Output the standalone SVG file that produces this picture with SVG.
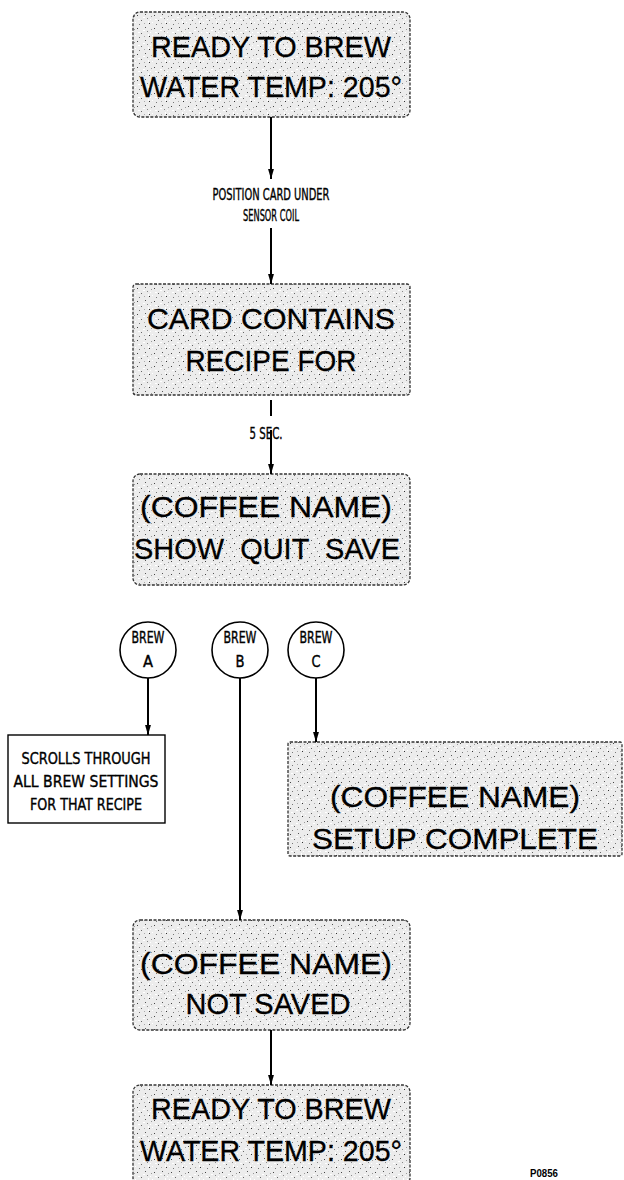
<svg xmlns="http://www.w3.org/2000/svg" width="624" height="1180" viewBox="0 0 624 1180">
<defs>
<pattern id="spk" width="17" height="13" patternUnits="userSpaceOnUse">
<rect width="17" height="13" fill="#ececec"/>
<rect x="1" y="2" width="1" height="1" fill="#444"/>
<rect x="5" y="7" width="1" height="1" fill="#666"/>
<rect x="9" y="1" width="1" height="1" fill="#555"/>
<rect x="13" y="10" width="1" height="1" fill="#333"/>
<rect x="3" y="11" width="1" height="1" fill="#777"/>
<rect x="11" y="5" width="1" height="1" fill="#888"/>
<rect x="15" y="3" width="1" height="1" fill="#999"/>
<rect x="7" y="4" width="2" height="1" fill="#fff"/>
<rect x="2" y="6" width="2" height="1" fill="#fff"/>
<rect x="12" y="8" width="1" height="2" fill="#fff"/>
<rect x="8" y="10" width="1" height="1" fill="#aaa"/>
<rect x="16" y="9" width="1" height="1" fill="#fff"/>
<rect x="14" y="6" width="1" height="1" fill="#fff"/>
</pattern>
<marker id="arr" markerWidth="10" markerHeight="17" refX="17" refY="5" orient="auto" markerUnits="userSpaceOnUse" viewBox="0 0 17 10">
<path d="M0,0 L17,5 L0,10 Z" fill="#000"/>
</marker>
</defs>
<style>
.lcd{fill:url(#spk);stroke:#333;stroke-width:1.3;stroke-dasharray:3 1.5}
.big{font-family:"Liberation Sans",Arial,sans-serif;font-size:29px;fill:#000;text-anchor:middle;stroke:#000;stroke-width:0.3}
.sm{font-family:"Liberation Sans Narrow","DejaVu Sans Condensed","Liberation Sans",sans-serif;font-size:15px;fill:#000;text-anchor:middle;stroke:#000;stroke-width:0.35}
.circ{fill:#fff;stroke:#000;stroke-width:1.6}
.box{fill:#fff;stroke:#000;stroke-width:1.4}
.con{stroke:#000;stroke-width:2;fill:none}
</style>

<g id="n-ready1">
<rect class="lcd" x="133" y="12" width="277" height="105" rx="7"/>
<text class="big" x="271" y="57" textLength="240" lengthAdjust="spacingAndGlyphs">READY TO BREW</text>
<text class="big" x="271" y="97" textLength="262" lengthAdjust="spacingAndGlyphs">WATER TEMP: 205°</text>
</g>

<g id="n-position">
<text class="sm" x="271" y="200" textLength="117" lengthAdjust="spacingAndGlyphs">POSITION CARD UNDER</text>
<text class="sm" x="271" y="221" textLength="56" lengthAdjust="spacingAndGlyphs">SENSOR COIL</text>
</g>

<g id="n-card">
<rect class="lcd" x="133" y="284" width="277" height="111" rx="3"/>
<text class="big" x="271" y="329" textLength="248" lengthAdjust="spacingAndGlyphs">CARD CONTAINS</text>
<text class="big" x="271" y="371" textLength="171" lengthAdjust="spacingAndGlyphs">RECIPE FOR</text>
</g>

<g id="n-5sec">
<text class="sm" x="266" y="439" textLength="33" lengthAdjust="spacingAndGlyphs">5 SEC.</text>
</g>

<g id="n-coffee-menu">
<rect class="lcd" x="133" y="474" width="277" height="111" rx="7"/>
<text class="big" x="266" y="517" textLength="252" lengthAdjust="spacingAndGlyphs">(COFFEE NAME)</text>
<text class="big" x="267" y="559" textLength="266" lengthAdjust="spacingAndGlyphs" xml:space="preserve">SHOW  QUIT  SAVE</text>
</g>

<g id="n-brewA">
<circle class="circ" cx="148" cy="650" r="28"/>
<text class="sm" x="148" y="643" font-size="17" textLength="33" lengthAdjust="spacingAndGlyphs">BREW</text>
<text class="sm" x="148" y="667" font-size="17" textLength="10" lengthAdjust="spacingAndGlyphs">A</text>
</g>
<g id="n-brewB">
<circle class="circ" cx="240" cy="650" r="28"/>
<text class="sm" x="240" y="643" font-size="17" textLength="33" lengthAdjust="spacingAndGlyphs">BREW</text>
<text class="sm" x="240" y="667" font-size="17" textLength="9" lengthAdjust="spacingAndGlyphs">B</text>
</g>
<g id="n-brewC">
<circle class="circ" cx="316" cy="650" r="28"/>
<text class="sm" x="316" y="643" font-size="17" textLength="33" lengthAdjust="spacingAndGlyphs">BREW</text>
<text class="sm" x="316" y="667" font-size="17" textLength="9" lengthAdjust="spacingAndGlyphs">C</text>
</g>

<g id="n-scrolls">
<rect class="box" x="8" y="735" width="157" height="88"/>
<text class="sm" x="86" y="764" textLength="129" lengthAdjust="spacingAndGlyphs">SCROLLS THROUGH</text>
<text class="sm" x="86" y="787" textLength="145" lengthAdjust="spacingAndGlyphs">ALL BREW SETTINGS</text>
<text class="sm" x="86" y="810" textLength="112" lengthAdjust="spacingAndGlyphs">FOR THAT RECIPE</text>
</g>

<g id="n-setup">
<rect class="lcd" x="288" y="742" width="334" height="114" rx="2" stroke="none"/>
<text class="big" x="455" y="807" textLength="250" lengthAdjust="spacingAndGlyphs">(COFFEE NAME)</text>
<text class="big" x="455" y="849" textLength="286" lengthAdjust="spacingAndGlyphs">SETUP COMPLETE</text>
</g>

<g id="n-notsaved">
<rect class="lcd" x="133" y="920" width="277" height="110" rx="7"/>
<text class="big" x="266" y="974" textLength="252" lengthAdjust="spacingAndGlyphs">(COFFEE NAME)</text>
<text class="big" x="268" y="1014" textLength="165" lengthAdjust="spacingAndGlyphs">NOT SAVED</text>
</g>

<g id="n-ready2">
<rect class="lcd" x="133" y="1085" width="277" height="100" rx="7"/>
<text class="big" x="271" y="1119" textLength="240" lengthAdjust="spacingAndGlyphs">READY TO BREW</text>
<text class="big" x="271" y="1161" textLength="262" lengthAdjust="spacingAndGlyphs">WATER TEMP: 205°</text>
</g>

<g id="n-ref">
<text x="530" y="1177" font-family="Liberation Sans Narrow,Liberation Sans,sans-serif" font-size="10" font-weight="bold" textLength="28" lengthAdjust="spacingAndGlyphs">P0856</text>
</g>

<g id="connectors">
<line class="con" x1="271" y1="117" x2="271" y2="179" marker-end="url(#arr)"/>
<line class="con" x1="271" y1="228" x2="271" y2="284" marker-end="url(#arr)"/>
<line class="con" x1="271" y1="400" x2="271" y2="416"/>
<line class="con" x1="271" y1="430" x2="271" y2="474" marker-end="url(#arr)"/>
<line class="con" x1="148" y1="678" x2="148" y2="735" marker-end="url(#arr)"/>
<line class="con" x1="240" y1="678" x2="240" y2="920" marker-end="url(#arr)"/>
<line class="con" x1="316" y1="678" x2="316" y2="742" marker-end="url(#arr)"/>
<line class="con" x1="271" y1="1030" x2="271" y2="1085" marker-end="url(#arr)"/>
</g>
</svg>
